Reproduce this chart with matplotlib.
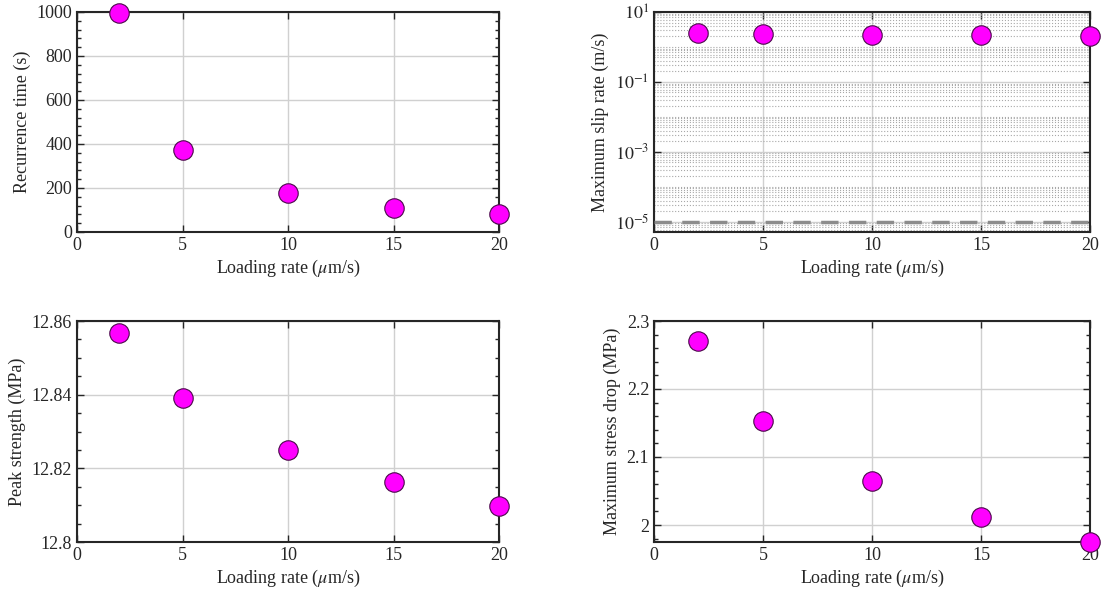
import numpy as np
import matplotlib
matplotlib.use("Agg")
import matplotlib.pyplot as plt
from matplotlib.ticker import AutoMinorLocator, FixedLocator, LogLocator, NullFormatter, FixedFormatter

# data
loading_rate = [2, 5, 10, 15, 20]
recurrence_time = [995, 375, 177, 111, 83]
max_slip_rate = [2.5, 2.3, 2.2, 2.2, 2.1]
peak_strength = [12.8568, 12.8392, 12.8249, 12.8162, 12.8097]
stress_drop = [2.270, 2.153, 2.065, 2.012, 1.975]
slip_threshold = 1e-5

plt.rcParams['font.family'] = ['Liberation Serif', 'DejaVu Serif']
plt.rcParams['mathtext.fontset'] = 'stix'
plt.rcParams['font.size'] = 13

W, H = 1117, 603
fig = plt.figure(figsize=(W / 100, H / 100), dpi=100)

def box(l, t, r, b):
    return [l / W, (H - b) / H, (r - l) / W, (b - t) / H]

ax_tl = fig.add_axes(box(77, 12, 499, 232))
ax_tr = fig.add_axes(box(654, 12, 1090, 232))
ax_bl = fig.add_axes(box(77, 321, 499, 542))
ax_br = fig.add_axes(box(654, 321, 1090, 542))

xlabel = r'Loading rate ($\mu$m/s)'

def style(ax):
    ax.set_xlim(0, 20)
    ax.set_xticks([0, 5, 10, 15, 20])
    ax.tick_params(which='both', direction='in', top=True, right=True, colors='#262626', labelcolor='#262626')
    ax.tick_params(which='major', length=5, width=1)
    ax.tick_params(which='minor', length=3, width=1)
    ax.tick_params(axis='x', which='minor', bottom=False, top=False)
    for s in ax.spines.values():
        s.set_linewidth(1.5)
        s.set_color('#262626')
    ax.grid(True, which='major', color='#d0d0d0', linewidth=1)
    ax.set_axisbelow(True)
    ax.set_xlabel(xlabel, color='#262626', labelpad=3)

def dots(ax, y):
    ax.plot(loading_rate, y, 'o', ms=14, mfc='#ff00ff', mec='#4a0a4a', mew=0.8, clip_on=False, zorder=5)

# recurrence time
style(ax_tl)
dots(ax_tl, recurrence_time)
ax_tl.set_ylim(0, 1000)
ax_tl.set_yticks([0, 200, 400, 600, 800, 1000])
ax_tl.yaxis.set_minor_locator(AutoMinorLocator(5))
ax_tl.set_ylabel('Recurrence time (s)', color='#262626')

# slip rate (log)
style(ax_tr)
ax_tr.set_yscale('log')
ax_tr.set_ylim(5.1e-6, 10)
ax_tr.yaxis.set_major_locator(FixedLocator([1e-5, 1e-3, 1e-1, 1e1]))
ax_tr.yaxis.set_major_formatter(FixedFormatter([r'$10^{-5}$', r'$10^{-3}$', r'$10^{-1}$', r'$10^{1}$']))
ax_tr.yaxis.set_minor_locator(LogLocator(base=10, subs=np.arange(1, 10), numticks=100))
ax_tr.yaxis.set_minor_formatter(NullFormatter())
ax_tr.tick_params(axis='y', which='minor', length=0)
ax_tr.grid(True, axis='y', which='minor', color='#a8a8a8', linestyle=':', linewidth=0.8)
ax_tr.axhline(slip_threshold, color='#8c8c8c', linestyle=(0, (5, 3)), linewidth=2.5, zorder=3)
dots(ax_tr, max_slip_rate)
ax_tr.set_ylabel('Maximum slip rate (m/s)', color='#262626')

# peak strength
style(ax_bl)
dots(ax_bl, peak_strength)
ax_bl.set_ylim(12.8, 12.86)
ax_bl.set_yticks([12.8, 12.82, 12.84, 12.86])
ax_bl.set_yticklabels(['12.8', '12.82', '12.84', '12.86'])
ax_bl.yaxis.set_minor_locator(AutoMinorLocator(4))
ax_bl.set_ylabel('Peak strength (MPa)', color='#262626')

# stress drop
style(ax_br)
dots(ax_br, stress_drop)
ax_br.set_ylim(1.975, 2.3)
ax_br.set_yticks([2.0, 2.1, 2.2, 2.3])
ax_br.set_yticklabels(['2', '2.1', '2.2', '2.3'])
ax_br.yaxis.set_minor_locator(AutoMinorLocator(5))
ax_br.set_ylabel('Maximum stress drop (MPa)', color='#262626')

fig.savefig('out.png', dpi=100)
